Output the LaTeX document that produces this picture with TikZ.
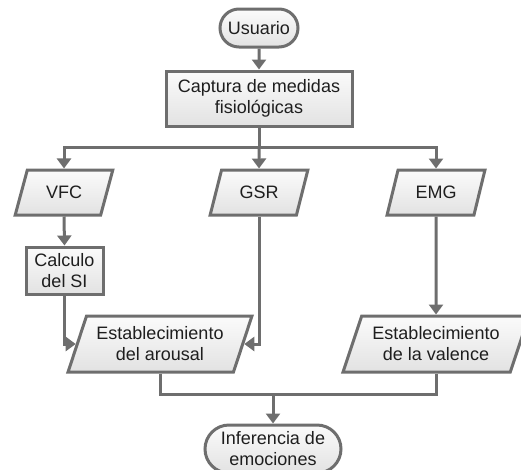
\documentclass[tikz,border=0pt]{standalone}
\usepackage{fontspec}
\setmainfont{Liberation Sans}
\usetikzlibrary{shapes.geometric,shapes.misc,arrows.meta}
\definecolor{linec}{HTML}{6E6E6E}
\definecolor{txtc}{HTML}{1E1E1E}
\definecolor{filltop}{HTML}{FBFBFB}
\definecolor{fillbot}{HTML}{E2E2E2}
\tikzset{
  base/.style={draw=linec, line width=3pt, top color=filltop, bottom color=fillbot,
    text=txtc, font=\fontsize{18}{21}\selectfont, align=center, inner sep=0pt},
  term/.style={base, rounded rectangle},
  proc/.style={base, rectangle},
  io/.style={base, trapezium, trapezium left angle=65, trapezium right angle=115,
    trapezium stretches=true},
  conn/.style={draw=linec, line width=3pt},
  arr/.style={conn, -{Triangle[width=14pt,length=10pt]}}
}
\begin{document}
\begin{tikzpicture}[x=1pt,y=-1pt]
\useasboundingbox (0,0) rectangle (521,469);
\node[term, minimum width=78pt, minimum height=38pt] (usuario) at (259,28) {Usuario};
\node[proc, minimum width=186pt, minimum height=55pt] (captura) at (259,98.5) {Captura de medidas\\fisiológicas};
\node[io, minimum width=98pt, minimum height=45pt] (vfc) at (64,192.5) {VFC};
\node[io, minimum width=98pt, minimum height=45pt] (gsr) at (259,192.5) {GSR};
\node[io, minimum width=98pt, minimum height=45pt] (emg) at (436,192.5) {EMG};
\node[proc, minimum width=77pt, minimum height=47pt] (calc) at (64.5,270.5) {Calculo\\del SI};
\node[io, minimum width=184pt, minimum height=56pt] (arousal) at (160,344) {Establecimiento\\del arousal};
\node[io, minimum width=186pt, minimum height=56pt] (valence) at (436,344) {Establecimiento\\de la valence};
\node[term, minimum width=136pt, minimum height=48pt] (inf) at (273,449) {Inferencia de\\emociones};
\coordinate (sp) at (259,147);
\coordinate (mg) at (273,394);
\draw[arr] (usuario) -- (captura);
\draw[conn] (captura) -- (sp);
\draw[arr] (sp) -| (vfc.north);
\draw[arr] (sp) -- (gsr.north);
\draw[arr] (sp) -| (emg.north);
\draw[arr] (vfc.south) -- (calc.north);
\draw[arr] (calc.south) |- (arousal.west);
\draw[arr] (gsr.south) |- (arousal.east);
\draw[arr] (emg.south) -- (valence.north);
\draw[conn] (arousal.south) |- (mg) -| (valence.south);
\draw[arr] (mg) -- (inf.north);
\end{tikzpicture}
\end{document}
